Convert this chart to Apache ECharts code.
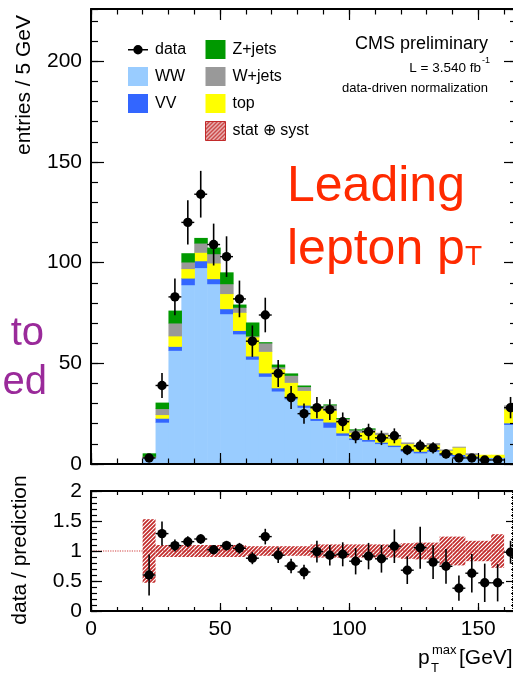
<!DOCTYPE html>
<html><head><meta charset="utf-8">
<script src="https://cdn.jsdelivr.net/npm/echarts@6/dist/echarts.min.js"></script>
<style>html,body{margin:0;padding:0;background:#fff}#c{width:513px;height:673px}</style>
</head><body><div id="c"></div>
<script>
// ---- data ----
const binEdges = [20,25,30,35,40,45,50,55,60,65,70,75,80,85,90,95,100,105,110,115,120,125,130,135,140,145,150,155,160,165];
const wwVals    = [3.0,20.5,56.2,88.8,97.3,89.3,74.4,64.4,51.8,43.3,36.0,32.1,27.9,21.4,18.0,14.0,11.9,11.1,9.9,8.4,6.1,5.3,6.1,4.0,3.6,3.3,2.8,2.8,19.4];
const vvVals    = [0.2,2.0,2.0,3.3,3.4,2.5,2.5,1.7,1.6,1.7,1.6,1.1,1.1,1.0,2.6,1.2,0.8,0.8,0.7,0.7,0.8,0.8,0.8,1.0,0.9,0.4,0.2,0.2,0.8];
const topVals   = [0.3,1.8,5.2,4.7,4.2,7.8,7.5,9.0,9.5,10.7,9.4,7.1,7.3,5.1,5.8,6.3,2.8,4.4,3.8,3.4,3.0,2.5,2.4,1.6,3.6,0.8,1.3,1.3,6.9];
const wjetsVals = [0.1,3.0,6.4,3.3,4.6,4.6,4.9,2.5,0.5,4.2,1.0,3.5,1.9,0.9,2.7,0.8,1.2,0.8,0.8,0.4,0.5,0.4,0.8,0.3,0.2,0.5,0.0,0.0,1.7];
const zjetsVals = [1.4,2.9,6.1,4.3,2.5,3.0,5.6,1.3,6.6,0.3,1.1,0.9,0.5,0.1,0.2,0.2,0.2,0.3,0,0,0,0,0,0,0,0,0,0,0];
const dataVals  = [3,39,83,120,134,109,103,82,61,74,45,33,25,28,27,21,14,16,13,14,7,9,8,5,3,3,2,2,28];
const dataErrs  = [1.7,6.2,9.1,11,11.6,10.4,10.1,9.1,7.8,8.6,6.7,5.7,5,5.3,5.2,4.6,3.7,4,3.6,3.7,2.6,3,2.8,2.2,1.7,1.7,1.4,1.4,5.3];
const ratioVals = [0.60,1.29,1.09,1.155,1.2,1.02,1.09,1.045,0.88,1.24,0.93,0.75,0.65,0.99,0.93,0.945,0.83,0.915,0.87,1.08,0.68,1.055,0.815,0.745,0.38,0.63,0.47,0.47,0.98];
const ratioErrs = [0.34,0.2,0.1,0.09,0.08,0.07,0.08,0.09,0.1,0.13,0.13,0.12,0.12,0.18,0.17,0.2,0.22,0.22,0.23,0.28,0.23,0.35,0.28,0.29,0.21,0.32,0.32,0.31,0.19];
const bandHalf  = [0.53,0.1,0.1,0.1,0.1,0.1,0.1,0.1,0.08,0.08,0.08,0.08,0.08,0.11,0.11,0.11,0.11,0.11,0.11,0.11,0.13,0.14,0.14,0.24,0.24,0.17,0.17,0.28,null];
const xTicks = [0,50,100,150];
const yMainMax = 226;
const ratioRefX = 163.2;

// ---- styling ----
const FONT = '"Liberation Sans", Arial, Helvetica, sans-serif';
const colors = {WW:'#99ccff', VV:'#3366ff', top:'#ffff00', Wjets:'#999999', Zjets:'#009900', band:'#c22a2a'};

function hatchCanvas(color){
  const s = 4, c = document.createElement('canvas'); c.width = s; c.height = s;
  const g = c.getContext('2d'); g.strokeStyle = color; g.lineWidth = 1.7;
  g.beginPath();
  g.moveTo(0, s); g.lineTo(s, 0);
  g.moveTo(-1, 1); g.lineTo(1, -1);
  g.moveTo(s - 1, s + 1); g.lineTo(s + 1, s - 1);
  g.stroke();
  return c;
}
const hatch = {image: hatchCanvas(colors.band), repeat: 'repeat'};

function rectItem(fill, pad){
  return function(params, api){
    const a = api.coord([api.value(0), api.value(3)]);
    const b = api.coord([api.value(1), api.value(2)]);
    const h = b[1] - a[1];
    if (h <= 0) return null;
    return {type:'rect', shape:{x:a[0], y:a[1] - pad, width:b[0] - a[0] + pad, height:h + pad}, style:{fill: fill}};
  };
}
function pointItem(params, api){
  const xc = api.value(0), y = api.value(1), xl = api.value(2), xh = api.value(3), e = api.value(4);
  const c = api.coord([xc, y]), lo = api.coord([xc, y - e]), hi = api.coord([xc, y + e]);
  const l = api.coord([xl, y]), r = api.coord([xh, y]);
  return {type:'group', children:[
    {type:'line', shape:{x1:c[0], y1:hi[1], x2:c[0], y2:lo[1]}, style:{stroke:'#000', lineWidth:1.6}},
    {type:'line', shape:{x1:l[0], y1:c[1], x2:r[0], y2:c[1]}, style:{stroke:'#000', lineWidth:1.4}},
    {type:'circle', shape:{cx:c[0], cy:c[1], r:4.7}, style:{fill:'#000'}}
  ]};
}

function axes(dim, grid, min, max, major, minor, majLen, minLen, labelOpt){
  const pos = dim === 'x' ? ['bottom','top'] : ['left','right'];
  const res = [];
  pos.forEach((p, k) => {
    const common = {type:'value', gridIndex:grid, min:min, max:max, position:p, z:10,
      splitLine:{show:false}, splitArea:{show:false}};
    res.push(Object.assign({}, common, {interval:major,
      axisLine:{show:true, onZero:false, lineStyle:{color:'#000', width:2}},
      axisTick:{show:true, inside:true, length:majLen, lineStyle:{color:'#000', width:1.2}},
      axisLabel:(k === 0 && labelOpt) ? labelOpt : {show:false}}));
    res.push(Object.assign({}, common, {interval:minor,
      axisLine:{show:false, onZero:false},
      axisTick:{show:true, inside:true, length:minLen, lineStyle:{color:'#000', width:1.2}},
      axisLabel:{show:false}}));
  });
  return res;
}
const lblY = {show:true, color:'#000', fontSize:21, fontFamily:FONT, margin:9, showMaxLabel:false};
const lblYr = {show:true, color:'#000', fontSize:21, fontFamily:FONT, margin:9};
const lblX = {show:true, color:'#000', fontSize:21, fontFamily:FONT, margin:8,
  formatter: v => (xTicks.indexOf(v) >= 0 ? String(v) : '')};

const xAxes = axes('x', 0, 0, 165, 50, 10, 11, 5.5, null).concat(axes('x', 1, 0, 165, 50, 10, 8, 4, lblX));
const yAxes = axes('y', 0, 0, yMainMax, 50, 10, 13, 7, lblY).concat(axes('y', 1, 0, 2, 0.5, 0.1, 11, 6, lblYr));

// ---- series ----
const series = [];
const comps = [
  {name:'WW', vals:wwVals, color:colors.WW},
  {name:'VV', vals:vvVals, color:colors.VV},
  {name:'top', vals:topVals, color:colors.top},
  {name:'W+jets', vals:wjetsVals, color:colors.Wjets},
  {name:'Z+jets', vals:zjetsVals, color:colors.Zjets}
];
let base = wwVals.map(() => 0);
comps.forEach((c, ci) => {
  const d = c.vals.map((v, i) => [binEdges[i], binEdges[i+1], base[i], base[i] + v]);
  base = base.map((b, i) => b + c.vals[i]);
  series.push({type:'custom', name:c.name, xAxisIndex:0, yAxisIndex:0, z:2 + ci * 0.01,
    itemStyle:{color:c.color}, renderItem:rectItem(c.color, 0.6), data:d, encode:{x:[0,1], y:[2,3]}});
});
series.push({type:'custom', name:'data', xAxisIndex:0, yAxisIndex:0, z:5, itemStyle:{color:'#000'},
  renderItem:pointItem,
  data:dataVals.map((v, i) => [(binEdges[i] + binEdges[i+1]) / 2, v, binEdges[i], binEdges[i+1], dataErrs[i]]),
  encode:{x:0, y:1}});

// ratio pad
series.push({type:'line', name:'unity', xAxisIndex:4, yAxisIndex:4, z:1, symbol:'none', silent:true,
  data:[[0,1],[165,1]], lineStyle:{color:'#d04040', width:1.2, type:'dotted'},
  markLine:{silent:true, symbol:'none', label:{show:false},
    lineStyle:{color:'#000', type:'dotted', width:1}, data:[{xAxis:ratioRefX}]}});
series.push({type:'custom', name:'stat ⊕ syst', xAxisIndex:4, yAxisIndex:4, z:2, itemStyle:{color:colors.band},
  renderItem:rectItem(hatch, 0),
  data:bandHalf.map((h, i) => h === null ? null : [binEdges[i], binEdges[i+1], 1 - h, 1 + h]).filter(d => d),
  encode:{x:[0,1], y:[2,3]}});
series.push({type:'custom', name:'ratio', xAxisIndex:4, yAxisIndex:4, z:5, renderItem:pointItem,
  data:ratioVals.map((v, i) => [(binEdges[i] + binEdges[i+1]) / 2, v, binEdges[i], binEdges[i+1], ratioErrs[i]]),
  encode:{x:0, y:1}});

const dataIcon = 'path://M0,0h0.01v0.01h-0.01z M20,19h0.01v0.01h-0.01z M0,9h20v1.6h-20z M14.7,9.8A4.7,4.7 0 1 1 5.3,9.8A4.7,4.7 0 1 1 14.7,9.8z';
const legText = {fontSize:16, fontFamily:FONT, color:'#000', padding:[0,0,0,2]};

function txt(text, x, y, size, opts){
  return Object.assign({type:'text', x:x, y:y, silent:true,
    style:Object.assign({text:text, font:size + 'px ' + FONT, fill:'#000', align:'left', verticalAlign:'middle'}, (opts && opts.style) || {})},
    (opts && opts.el) || {});
}

const option = {
  animation:false,
  backgroundColor:'#fff',
  grid:[
    {left:91, top:9, width:426, height:455, containLabel:false, outerBoundsMode:'none'},
    {left:91, top:491, width:426, height:120, containLabel:false, outerBoundsMode:'none'}
  ],
  xAxis:xAxes,
  yAxis:yAxes,
  legend:[
    {left:123, top:35, orient:'vertical', itemWidth:20, itemHeight:19, itemGap:8, selectedMode:false,
     textStyle:legText,
     data:[{name:'data', icon:dataIcon, itemStyle:{color:'#000', borderWidth:0}},
           {name:'WW', icon:'rect', itemStyle:{color:colors.WW, borderWidth:0}},
           {name:'VV', icon:'rect', itemStyle:{color:colors.VV, borderWidth:0}}]},
    {left:200, top:35, orient:'vertical', itemWidth:20, itemHeight:19, itemGap:8, selectedMode:false,
     textStyle:legText,
     data:[{name:'Z+jets', icon:'rect', itemStyle:{color:colors.Zjets, borderWidth:0}},
           {name:'W+jets', icon:'rect', itemStyle:{color:colors.Wjets, borderWidth:0}},
           {name:'top', icon:'rect', itemStyle:{color:colors.top, borderWidth:0}},
           {name:'stat ⊕ syst', icon:'rect', itemStyle:{color:hatch, borderColor:colors.band, borderWidth:1}}]}
  ],
  graphic:[
    txt('CMS preliminary', 488, 44, 18, {style:{align:'right'}}),
    txt('L = 3.540 fb', 481, 68, 13.5, {style:{align:'right'}}),
    txt('-1', 482, 61, 9, {}),
    txt('data-driven normalization', 488, 88, 13, {style:{align:'right'}}),
    txt('Leading', 287, 187, 50, {style:{fill:'#ff2a00'}}),
    txt('lepton p', 287, 250, 50, {style:{fill:'#ff2a00'}}),
    txt('T', 465, 257, 28, {style:{fill:'#ff2a00'}}),
    txt('to', 44, 334, 40, {style:{fill:'#9a2a9a', align:'right'}}),
    txt('ed', 47, 383, 40, {style:{fill:'#9a2a9a', align:'right'}}),
    txt('entries / 5 GeV', 24, 85, 21, {style:{align:'center'}, el:{rotation:Math.PI/2}}),
    txt('data / prediction', 20, 550, 21, {style:{align:'center'}, el:{rotation:Math.PI/2}}),
    txt('p', 418, 658, 21, {}),
    txt('max', 432, 650, 13, {}),
    txt('T', 431, 668, 13, {}),
    txt('[GeV]', 459, 658, 21, {})
  ],
  series:series
};
const chart = echarts.init(document.getElementById('c'), null, {renderer:'canvas', width:513, height:673});
chart.setOption(option);
</script></body></html>
